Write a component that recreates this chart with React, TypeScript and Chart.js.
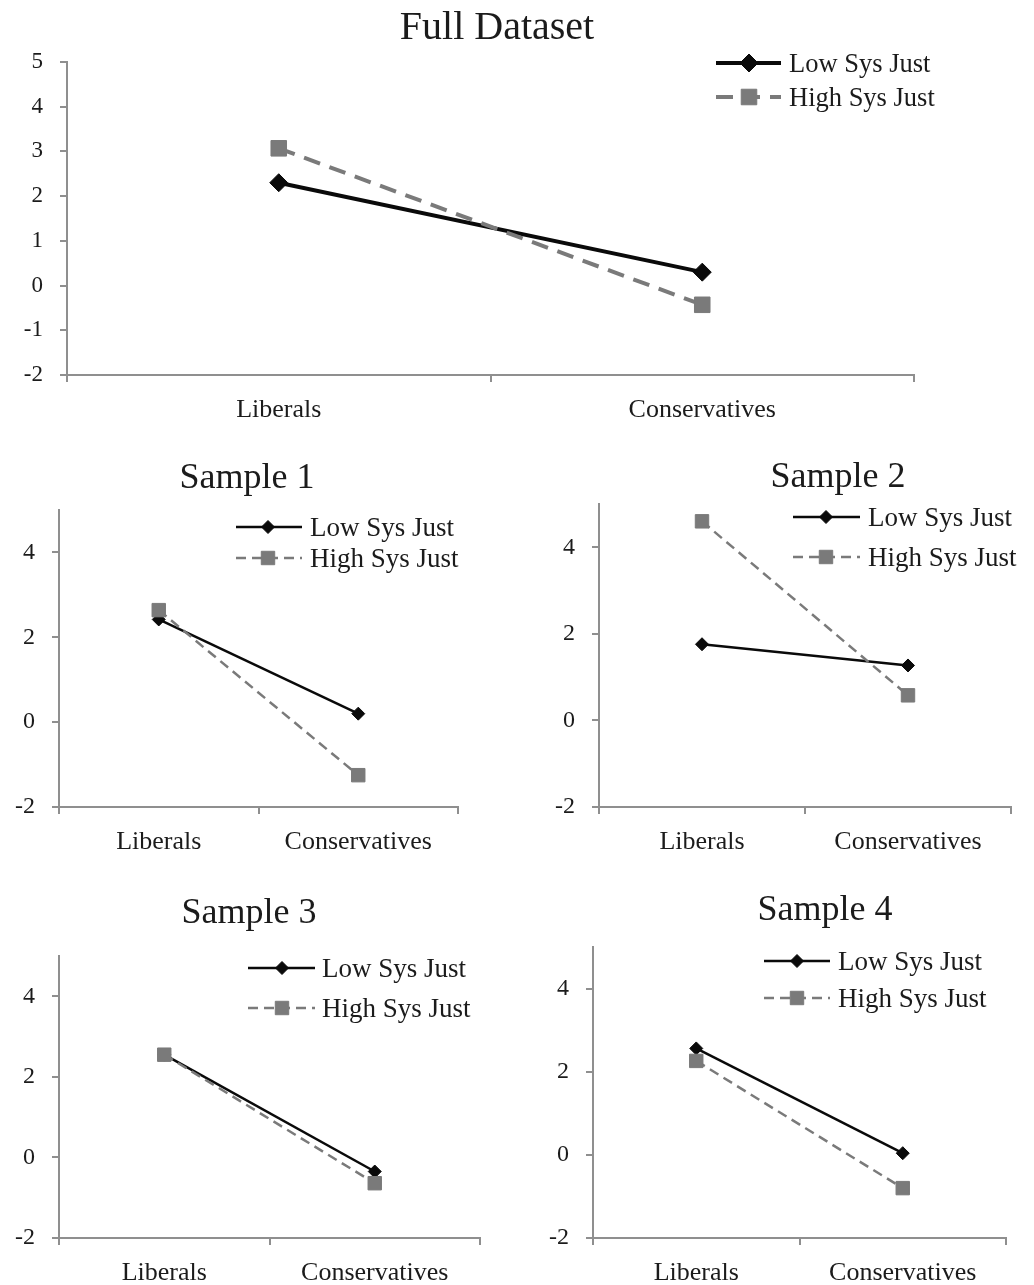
import React, { useEffect, useRef } from 'react';
import { Chart, registerables } from 'chart.js';

Chart.register(...registerables);

// ---------------- data ----------------
const categories = ['Liberals', 'Conservatives'];
const seriesNames = ['Low Sys Just', 'High Sys Just'];
const panelTitles = ['Full Dataset', 'Sample 1', 'Sample 2', 'Sample 3', 'Sample 4'];

const fullLow = [2.3, 0.3];
const fullHigh = [3.07, -0.43];
const s1Low = [2.42, 0.2];
const s1High = [2.64, -1.25];
const s2Low = [1.76, 1.27];
const s2High = [4.6, 0.58];
const s3Low = [2.55, -0.35];
const s3High = [2.55, -0.64];
const s4Low = [2.56, 0.04];
const s4High = [2.26, -0.8];

const fullTicks = [-2, -1, 0, 1, 2, 3, 4, 5];
const sampleTicks = [-2, 0, 2, 4];
const yMin = -2;
const yMax = 5;

// ---------------- styles ----------------
const FONT = '"Liberation Serif", "Times New Roman", serif';
const TEXT = '#1b1b1b';
const AXIS = '#8f8f8f';
const BLACK = '#0a0a0a';
const GRAY = '#7a7a7a';

type Cfg = {
  title: string;
  low: number[];
  high: number[];
  ticks: number[];
  box: { x: number; y: number; w: number; h: number };
  area: { l: number; t: number; r: number; b: number };
  titleX: number;
  titleBase: number;
  titleSize: number;
  leg: { x1: number; x2: number; xm: number; xt: number; rows: number[]; size: number };
  tickSize: number;
  catSize: number;
  lineW: number;
  dash: number[];
  diamondR: number;
  squareR: number;
};

const common = {
  tickSize: 24,
  catSize: 26,
  lineW: 2.5,
  dash: [10, 6],
  diamondR: 6.5,
  squareR: 9.5,
  titleSize: 36,
};

const panels: Cfg[] = [
  {
    title: panelTitles[0], low: fullLow, high: fullHigh, ticks: fullTicks,
    box: { x: 0, y: 0, w: 1034, h: 440 },
    area: { l: 67, t: 62, r: 914, b: 375 },
    titleX: 497, titleBase: 39, titleSize: 40,
    leg: { x1: 716, x2: 781, xm: 749, xt: 789, rows: [63, 97], size: 26.5 },
    tickSize: 23, catSize: 26, lineW: 4, dash: [17, 10], diamondR: 9, squareR: 11,
  },
  {
    ...common,
    title: panelTitles[1], low: s1Low, high: s1High, ticks: sampleTicks,
    box: { x: 0, y: 440, w: 520, h: 430 },
    area: { l: 59, t: 510, r: 458, b: 807 },
    titleX: 247, titleBase: 488,
    leg: { x1: 236, x2: 302, xm: 268, xt: 310, rows: [527, 558], size: 27 },
  },
  {
    ...common,
    title: panelTitles[2], low: s2Low, high: s2High, ticks: sampleTicks,
    box: { x: 520, y: 440, w: 514, h: 430 },
    area: { l: 599, t: 504, r: 1011, b: 807 },
    titleX: 838, titleBase: 487,
    leg: { x1: 793, x2: 860, xm: 826, xt: 868, rows: [517, 557], size: 27 },
  },
  {
    ...common,
    title: panelTitles[3], low: s3Low, high: s3High, ticks: sampleTicks,
    box: { x: 0, y: 870, w: 520, h: 415 },
    area: { l: 59, t: 956, r: 480, b: 1238 },
    titleX: 249, titleBase: 923,
    leg: { x1: 248, x2: 315, xm: 282, xt: 322, rows: [968, 1008], size: 27 },
  },
  {
    ...common,
    title: panelTitles[4], low: s4Low, high: s4High, ticks: sampleTicks,
    box: { x: 520, y: 870, w: 514, h: 415 },
    area: { l: 593, t: 947, r: 1006, b: 1238 },
    titleX: 825, titleBase: 920,
    leg: { x1: 764, x2: 830, xm: 797, xt: 838, rows: [961, 998], size: 27 },
  },
];

function drawDiamond(ctx: CanvasRenderingContext2D, x: number, y: number, r: number) {
  ctx.beginPath();
  ctx.moveTo(x - r, y);
  ctx.lineTo(x, y - r);
  ctx.lineTo(x + r, y);
  ctx.lineTo(x, y + r);
  ctx.closePath();
  ctx.fillStyle = BLACK;
  ctx.fill();
  ctx.lineWidth = 1;
  ctx.strokeStyle = BLACK;
  ctx.stroke();
}

function drawSquare(ctx: CanvasRenderingContext2D, x: number, y: number, r: number) {
  const s = Math.SQRT1_2 * r;
  ctx.beginPath();
  ctx.rect(x - s, y - s, 2 * s, 2 * s);
  ctx.fillStyle = GRAY;
  ctx.fill();
  ctx.lineWidth = 1;
  ctx.strokeStyle = GRAY;
  ctx.stroke();
}

function Panel({ cfg }: { cfg: Cfg }) {
  const ref = useRef<HTMLCanvasElement>(null);

  useEffect(() => {
    const canvas = ref.current;
    if (!canvas) return;
    const c = cfg;
    const bx = c.box;
    const yW = 50;
    const xH = bx.y + bx.h - c.area.b;
    const padding = {
      left: c.area.l - bx.x - yW,
      top: c.area.t - bx.y,
      right: bx.x + bx.w - c.area.r,
      bottom: 0,
    };

    const overlay = {
      id: 'overlay',
      afterDraw(chart: any) {
        const ctx: CanvasRenderingContext2D = chart.ctx;
        ctx.save();
        ctx.setLineDash([]);
        ctx.font = `${c.titleSize}px ${FONT}`;
        ctx.fillStyle = TEXT;
        ctx.textAlign = 'center';
        ctx.textBaseline = 'alphabetic';
        ctx.fillText(c.title, c.titleX - bx.x, c.titleBase - bx.y);

        seriesNames.forEach((name, i) => {
          const y = c.leg.rows[i] - bx.y;
          ctx.beginPath();
          ctx.setLineDash(i === 1 ? c.dash : []);
          ctx.lineWidth = c.lineW;
          ctx.strokeStyle = i === 1 ? GRAY : BLACK;
          ctx.moveTo(c.leg.x1 - bx.x, y);
          ctx.lineTo(c.leg.x2 - bx.x, y);
          ctx.stroke();
          ctx.setLineDash([]);
          if (i === 0) drawDiamond(ctx, c.leg.xm - bx.x, y, c.diamondR);
          else drawSquare(ctx, c.leg.xm - bx.x, y, c.squareR);
          ctx.font = `${c.leg.size}px ${FONT}`;
          ctx.fillStyle = TEXT;
          ctx.textAlign = 'left';
          ctx.textBaseline = 'alphabetic';
          ctx.fillText(name, c.leg.xt - bx.x, y + c.leg.size * 0.33);
        });
        ctx.restore();
      },
    };

    const gridCfg = {
      display: true,
      drawOnChartArea: false,
      drawTicks: true,
      tickLength: 7,
      color: AXIS,
      lineWidth: 2,
    };

    const chart = new Chart(canvas, {
      type: 'line',
      data: {
        labels: categories,
        datasets: [
          {
            label: seriesNames[0],
            data: c.low,
            borderColor: BLACK,
            backgroundColor: BLACK,
            borderWidth: c.lineW,
            pointStyle: 'rectRot',
            pointRadius: c.diamondR,
            pointBackgroundColor: BLACK,
            pointBorderColor: BLACK,
            pointBorderWidth: 1,
            tension: 0,
            clip: false as any,
            order: 1,
          },
          {
            label: seriesNames[1],
            data: c.high,
            borderColor: GRAY,
            backgroundColor: GRAY,
            borderWidth: c.lineW,
            borderDash: c.dash,
            pointStyle: 'rect',
            pointRadius: c.squareR,
            pointBackgroundColor: GRAY,
            pointBorderColor: GRAY,
            pointBorderWidth: 1,
            tension: 0,
            clip: false as any,
            order: 0,
          },
        ],
      },
      options: {
        responsive: false,
        animation: false,
        devicePixelRatio: 1,
        layout: { padding },
        plugins: {
          legend: { display: false },
          title: { display: false },
          tooltip: { enabled: false },
        },
        scales: {
          x: {
            type: 'category',
            offset: true,
            grid: { ...gridCfg, offset: true },
            border: { display: true, color: AXIS, width: 2 },
            ticks: {
              font: { family: FONT, size: c.catSize },
              color: TEXT,
              padding: 13,
              maxRotation: 0,
              autoSkip: false,
            },
            afterFit: (s: any) => {
              s.height = xH;
            },
          },
          y: {
            type: 'linear',
            min: yMin,
            max: yMax,
            grid: gridCfg,
            border: { display: true, color: AXIS, width: 2 },
            ticks: {
              font: { family: FONT, size: c.tickSize },
              color: TEXT,
              padding: 17,
              includeBounds: false,
            },
            afterBuildTicks: (s: any) => {
              s.ticks = c.ticks.map((v) => ({ value: v }));
            },
            afterFit: (s: any) => {
              s.width = yW;
            },
          },
        },
      } as any,
      plugins: [overlay],
    });

    return () => chart.destroy();
  }, [cfg]);

  return (
    <canvas
      ref={ref}
      width={cfg.box.w}
      height={cfg.box.h}
      style={{
        position: 'absolute',
        left: cfg.box.x,
        top: cfg.box.y,
        width: cfg.box.w,
        height: cfg.box.h,
      }}
    />
  );
}

export default function App() {
  return (
    <div
      style={{
        position: 'absolute',
        left: 0,
        top: 0,
        width: 1034,
        height: 1285,
        background: '#ffffff',
        overflow: 'hidden',
      }}
    >
      {panels.map((p, i) => (
        <Panel key={i} cfg={p} />
      ))}
    </div>
  );
}
